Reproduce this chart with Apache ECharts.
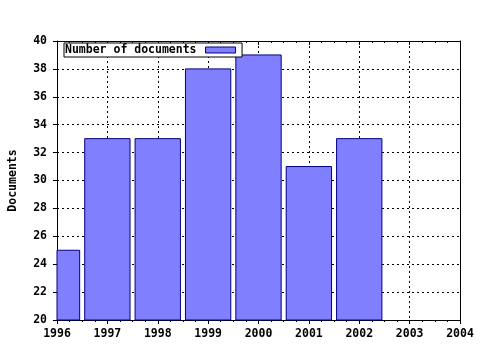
<!DOCTYPE html>
<html><head><meta charset="utf-8">
<script src="https://cdn.jsdelivr.net/npm/echarts@6/dist/echarts.min.js"></script>
<style>html,body{margin:0;padding:0;background:#fff}#c{width:480px;height:350px}</style>
</head><body><div id="c"></div>
<script>
const years = [1996, 1997, 1998, 1999, 2000, 2001, 2002];
const documents = [25, 33, 33, 38, 39, 31, 33];
const xTicks = [1996, 1997, 1998, 1999, 2000, 2001, 2002, 2003, 2004];
const yTicks = [20, 22, 24, 26, 28, 30, 32, 34, 36, 38, 40];
const seriesName = 'Number of documents';
const yName = 'Documents';

const font = 'DejaVu Sans Mono';
const fs = 11.5;
const yMin = yTicks[0];
const chart = echarts.init(document.getElementById('c'), null, {renderer: 'canvas'});
chart.setOption({
  animation: false,
  backgroundColor: '#fff',
  textStyle: {fontFamily: font, fontWeight: 'bold', fontSize: fs, color: '#000'},
  grid: {show: false, left: 57, right: 20, top: 41, bottom: 30, containLabel: false, outerBoundsMode: 'none'},
  legend: {
    show: true, left: 64, top: 43, orient: 'horizontal', align: 'right',
    backgroundColor: '#fff', borderColor: '#000', borderWidth: 1, borderRadius: 0,
    padding: [1, 6, 1, 1],
    itemWidth: 30, itemHeight: 6,
    icon: 'rect',
    textStyle: {fontFamily: font, fontWeight: 'bold', fontSize: fs, color: '#000', lineHeight: 12, padding: [0, 4, 0, 0]},
    itemStyle: {color: '#8080ff', borderColor: '#000080', borderWidth: 1},
    data: [seriesName]
  },
  xAxis: [{
    type: 'value', min: xTicks[0], max: xTicks[xTicks.length - 1], interval: 1,
    position: 'bottom',
    axisLine: {show: true, lineStyle: {color: '#000', width: 1}},
    axisTick: {show: true, length: 4, inside: false, lineStyle: {color: '#000'}},
    minorTick: {show: true, splitNumber: 4, length: 2, lineStyle: {color: '#000'}},
    axisLabel: {fontFamily: font, fontWeight: 'bold', fontSize: fs, color: '#000', margin: 8, formatter: v => String(v)},
    splitLine: {show: true, lineStyle: {color: '#000', type: [2, 3], width: 1}}
  }, {
    type: 'value', min: xTicks[0], max: xTicks[xTicks.length - 1], interval: 1,
    position: 'top',
    axisLine: {show: true, lineStyle: {color: '#000', width: 1}},
    axisTick: {show: true, length: 4, inside: true, lineStyle: {color: '#000'}},
    minorTick: {show: true, splitNumber: 4, length: 2, lineStyle: {color: '#000'}},
    axisLabel: {show: false},
    splitLine: {show: false}
  }],
  yAxis: [{
    type: 'value', min: yTicks[0], max: yTicks[yTicks.length - 1], interval: 2,
    position: 'left',
    name: yName, nameLocation: 'middle', nameRotate: 90, nameGap: 38,
    nameTextStyle: {fontFamily: font, fontWeight: 'bold', fontSize: fs, color: '#000'},
    axisLine: {show: true, lineStyle: {color: '#000', width: 1}},
    axisTick: {show: true, length: 4, inside: false, lineStyle: {color: '#000'}},
    axisLabel: {fontFamily: font, fontWeight: 'bold', fontSize: fs, color: '#000', margin: 10},
    splitLine: {show: true, lineStyle: {color: '#000', type: [2, 3], width: 1}}
  }, {
    type: 'value', min: yTicks[0], max: yTicks[yTicks.length - 1], interval: 2,
    position: 'right',
    axisLine: {show: true, lineStyle: {color: '#000', width: 1}},
    axisTick: {show: false}, axisLabel: {show: false}, splitLine: {show: false}
  }],
  series: [{
    name: seriesName, type: 'custom', xAxisIndex: 0, yAxisIndex: 0,
    itemStyle: {color: '#8080ff', borderColor: '#000080', borderWidth: 1},
    encode: {x: 0, y: 1},
    renderItem: function (params, api) {
      const x = api.value(0), y = api.value(1);
      const top = api.coord([x, y]);
      const base = api.coord([x, yMin]);
      const w = api.size([1, 0])[0] * 0.9;
      const cs = params.coordSys;
      const rect = echarts.graphic.clipRectByRect(
        {x: top[0] - w / 2, y: top[1], width: w, height: base[1] - top[1]},
        {x: cs.x, y: cs.y, width: cs.width, height: cs.height});
      if (!rect) return null;
      return {type: 'rect', shape: rect, style: {fill: '#8080ff', stroke: '#000080', lineWidth: 1}};
    },
    data: years.map((y, i) => [y, documents[i]])
  }]
});
</script></body></html>
